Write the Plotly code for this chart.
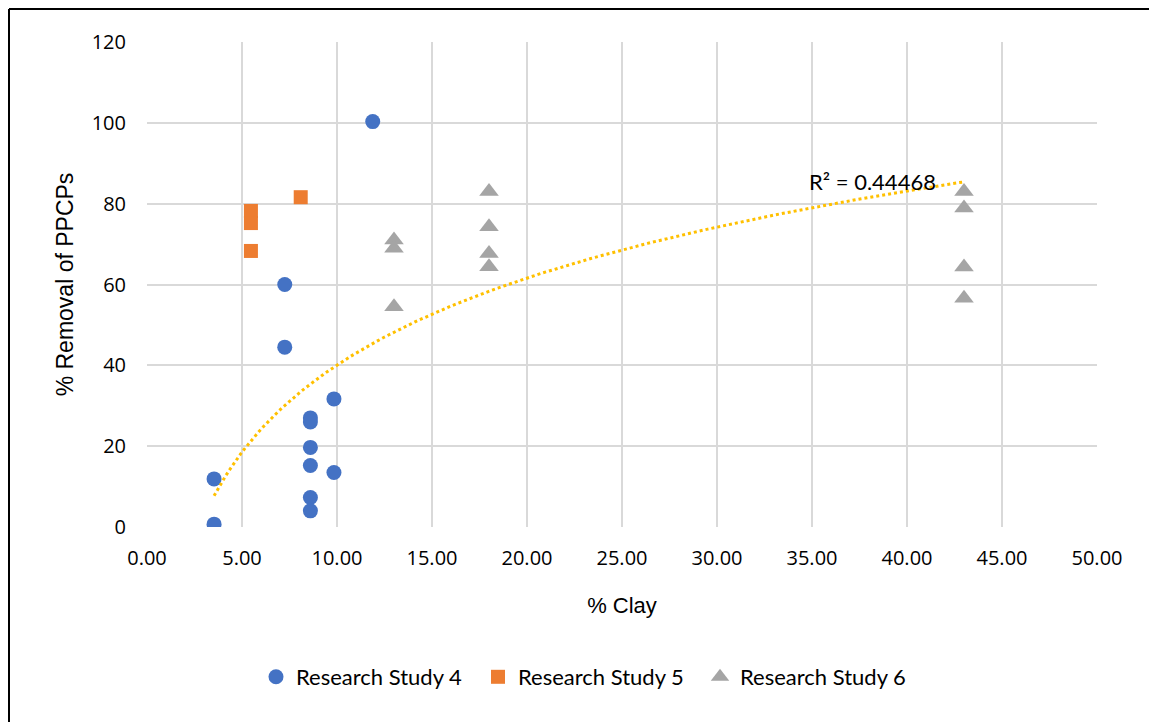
import numpy as np
import plotly.graph_objects as go

# Research Study 4
s4_clay = [3.53, 3.53, 7.25, 7.25, 8.6, 8.6, 8.6, 8.6, 8.6, 8.6, 9.84, 9.84, 11.88]
s4_removal = [11.9, 0.7, 60.0, 44.5, 27.0, 26.0, 19.7, 15.2, 7.3, 4.0, 31.7, 13.5, 100.3]
# Research Study 5
s5_clay = [5.47, 5.47, 5.47, 8.09]
s5_removal = [78.2, 75.2, 68.3, 81.6]
# Research Study 6
s6_clay = [13, 13, 13, 18, 18, 18, 18, 43, 43, 43, 43]
s6_removal = [71.0, 69.0, 54.5, 83.0, 74.3, 67.7, 64.4, 83.0, 78.9, 64.3, 56.6]

# logarithmic trendline y = a*ln(x) + b (coefficients)
trend_a = 31.08
trend_b = -31.5
r2_label = "R² = 0.44468"

x_ticks = [0, 5, 10, 15, 20, 25, 30, 35, 40, 45, 50]
y_ticks = [0, 20, 40, 60, 80, 100, 120]

all_x = np.array(s4_clay + s5_clay + s6_clay, dtype=float)
tx = np.linspace(all_x.min(), all_x.max(), 200)
ty = trend_a * np.log(tx) + trend_b

fig = go.Figure()
fig.add_trace(go.Scatter(x=s4_clay, y=s4_removal, mode="markers", name="Research Study 4",
                         marker=dict(symbol="circle", size=15, color="#4472C4")))
fig.add_trace(go.Scatter(x=s5_clay, y=s5_removal, mode="markers", name="Research Study 5",
                         marker=dict(symbol="square", size=14, color="#ED7D31")))
fig.add_trace(go.Scatter(x=s6_clay, y=s6_removal, mode="markers", name="Research Study 6",
                         marker=dict(symbol="triangle-up", size=17, color="#A5A5A5")))
fig.add_trace(go.Scatter(x=tx, y=ty, mode="lines", showlegend=False, hoverinfo="skip",
                         line=dict(color="#FFC000", width=3, dash="dot")))

fig.add_annotation(x=38.2, y=85.6, text=r2_label, showarrow=False,
                   font=dict(family="Lato", size=22, color="#000000"))

OFF = 8  # page body offset
W, H = 1157 - OFF, 722 - OFF
L, T = 147 - OFF, 42 - OFF
R = W - (1097 - OFF)
B = H - (527 - OFF)
pw, ph = W - L - R, H - T - B

def px(x):
    return (x - OFF - L) / pw

def py(y):
    return (H - B - (y - OFF)) / ph

fig.add_shape(type="line", xref="paper", yref="paper", x0=px(9), x1=px(9), y0=py(9), y1=py(730),
              line=dict(color="#000000", width=2))
fig.add_shape(type="line", xref="paper", yref="paper", x0=px(9), x1=px(1170), y0=py(9), y1=py(9),
              line=dict(color="#000000", width=2))

fig.update_layout(
    width=W, height=H,
    margin=dict(l=L, r=R, t=T, b=B),
    paper_bgcolor="#FFFFFF", plot_bgcolor="#FFFFFF",
    font=dict(family="Open Sans", size=20, color="#000000"),
    legend=dict(orientation="h", x=px(256), xanchor="left", y=py(677), yanchor="middle",
                font=dict(family="Lato", size=22, color="#000000"),
                itemwidth=30, entrywidth=177, entrywidthmode="pixels", bgcolor="rgba(0,0,0,0)"),
    xaxis=dict(range=[0, 50], tickvals=x_ticks, ticktext=[f"{v:.2f}" for v in x_ticks],
               showgrid=True, gridcolor="#D9D9D9", gridwidth=1.5, zeroline=False,
               showline=False, ticks="", ticklabelstandoff=17,
               title=dict(text="% Clay", font=dict(family="Liberation Sans", size=22), standoff=27)),
    yaxis=dict(range=[0, 120], tickvals=y_ticks, showgrid=True, gridcolor="#D9D9D9", gridwidth=1.5,
               zeroline=False, showline=False, ticks="", ticklabelstandoff=20,
               title=dict(text="% Removal of PPCPs", font=dict(family="Liberation Sans", size=23), standoff=11)),
)

fig.write_html("out.html")
